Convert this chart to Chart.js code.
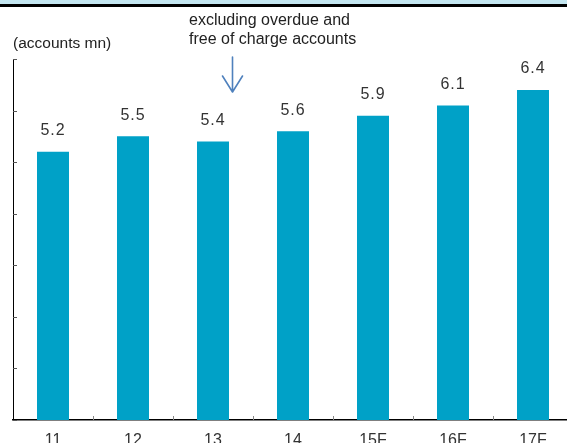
<!DOCTYPE html>
<html>
<head>
<meta charset="utf-8">
<script src="https://cdn.jsdelivr.net/npm/chart.js@4/dist/chart.umd.min.js"></script>
<style>
  html, body { margin: 0; padding: 0; background: #fff; overflow: hidden; width: 567px; height: 443px; }
  #band { position: absolute; left: 0; top: 0; width: 567px; height: 4px; background: #C3E6F0; }
  #rule { position: absolute; left: 0; top: 4px; width: 567px; height: 3px; background: #000; }
  #wrap { position: absolute; left: 0; top: 0; }
</style>
</head>
<body>
<div id="wrap"><canvas id="c" width="580" height="447"></canvas></div>
<div id="band"></div>
<div id="rule"></div>
<script>
// Year labels (F = forecast) and account counts in millions
const categories = ['11', '12', '13', '14', '15F', '16F', '17F'];
const accounts = [5.2, 5.5, 5.4, 5.6, 5.9, 6.1, 6.4];
const yTicks = [0, 1, 2, 3, 4, 5, 6, 7];

const FONT = '"Liberation Sans", Arial, Helvetica, sans-serif';

// Inner tick marks, value labels, unit caption and note arrow
const decorations = {
  id: 'decorations',
  afterDatasetsDraw(chart) {
    const ctx = chart.ctx;
    const x = chart.scales.x;
    const y = chart.scales.y;
    const area = chart.chartArea;
    ctx.save();

    // y-axis ticks pointing into the plot
    ctx.strokeStyle = '#555';
    ctx.lineWidth = 1;
    yTicks.forEach(v => {
      const py = Math.round(y.getPixelForValue(v)) + 0.5;
      ctx.beginPath();
      ctx.moveTo(area.left, py);
      ctx.lineTo(area.left + 4, py);
      ctx.stroke();
    });

    // x-axis ticks at category boundaries
    ctx.strokeStyle = '#888';
    for (let i = 0; i < categories.length - 1; i++) {
      const px = Math.round((x.getPixelForValue(i) + x.getPixelForValue(i + 1)) / 2) + 0.5;
      ctx.beginPath();
      ctx.moveTo(px, area.bottom);
      ctx.lineTo(px, area.bottom - 4);
      ctx.stroke();
    }

    // value labels above each bar
    ctx.fillStyle = '#333';
    ctx.font = '16px ' + FONT;
    ctx.textAlign = 'center';
    ctx.textBaseline = 'alphabetic';
    if ('letterSpacing' in ctx) ctx.letterSpacing = '1px';
    chart.getDatasetMeta(0).data.forEach((bar, i) => {
      ctx.fillText(accounts[i].toFixed(1), bar.x, bar.y - 16.5);
    });
    if ('letterSpacing' in ctx) ctx.letterSpacing = '0px';

    // unit caption and note
    ctx.textAlign = 'left';
    ctx.fillStyle = '#222';
    ctx.font = '15.5px ' + FONT;
    ctx.fillText('(accounts mn)', 13, 47.5);
    ctx.font = '16px ' + FONT;
    ctx.fillText('excluding overdue and', 189, 25);
    ctx.fillText('free of charge accounts', 189, 44);

    // down arrow under the note
    ctx.strokeStyle = '#4F81BD';
    ctx.lineWidth = 1.6;
    ctx.lineCap = 'round';
    ctx.lineJoin = 'round';
    ctx.beginPath();
    ctx.moveTo(232.5, 57);
    ctx.lineTo(232.5, 92);
    ctx.moveTo(222.5, 76);
    ctx.lineTo(232.5, 92);
    ctx.lineTo(242.5, 76);
    ctx.stroke();

    ctx.restore();
  }
};

new Chart(document.getElementById('c'), {
  type: 'bar',
  data: {
    labels: categories,
    datasets: [{
      data: accounts,
      backgroundColor: '#00A1C7',
      borderWidth: 0,
      barPercentage: 0.4,
      categoryPercentage: 1.0
    }]
  },
  options: {
    responsive: false,
    animation: false,
    devicePixelRatio: 1,
    layout: { padding: { left: 13, top: 59, right: 7, bottom: 0 } },
    plugins: { legend: { display: false }, tooltip: { enabled: false } },
    scales: {
      x: {
        grid: { display: false, drawTicks: false },
        border: { display: true, color: '#000', width: 1.5 },
        ticks: {
          color: '#333',
          font: { family: FONT, size: 16 },
          padding: 11,
          maxRotation: 0,
          autoSkip: false
        },
        afterFit(scale) { scale.height = 27; }
      },
      y: {
        min: 0,
        max: 7,
        grid: { display: false, drawTicks: false },
        border: { display: true, color: '#000', width: 1 },
        ticks: { display: false, stepSize: 1 },
        afterFit(scale) { scale.width = 0; }
      }
    }
  },
  plugins: [decorations]
});
</script>
</body>
</html>
